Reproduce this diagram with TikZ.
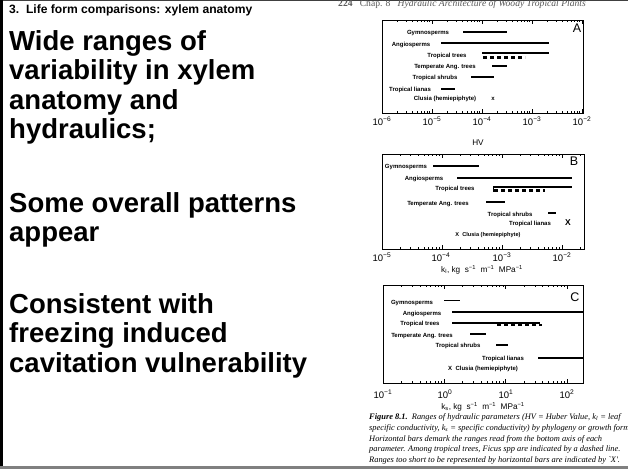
\documentclass[tikz,border=0pt]{standalone}
\usepackage{fontspec}
\setmainfont{Liberation Sans}
\newfontfamily\serifcap{Liberation Serif}
\usetikzlibrary{calc}
\newcommand{\panelticks}[5]{%
  \foreach \d in {0,...,4}{%
    \foreach \m in {1,...,9}{%
      \pgfmathsetmacro{\tx}{#1+#2*(\d+log10(\m))}%
      \pgfmathparse{\tx<=(#3-0.6) ? 1 : 0}%
      \ifnum\pgfmathresult=1
        \ifnum\m=1 \def\tl{4}\else\def\tl{2.3}\fi
        \draw[tickmark] (\tx,#4) -- ++(0,\tl) (\tx,#5) -- ++(0,-\tl);
      \fi
    }%
  }%
}
\begin{document}
\begin{tikzpicture}[x=1pt,y=-1pt,
  bigtxt/.style={anchor=base west,inner sep=0,font=\fontsize{27.5}{30}\selectfont\bfseries},
  lbl/.style={inner sep=0,font=\fontsize{6}{7}\selectfont\bfseries},
  tklbl/.style={inner sep=0,font=\fontsize{9.5}{10}\selectfont},
  axlbl/.style={inner sep=0,font=\fontsize{8.2}{10}\selectfont},
  plet/.style={inner sep=0,font=\fontsize{12.5}{13}\selectfont},
  capline/.style={anchor=base west,inner sep=0,font=\fontsize{8.4}{10}\selectfont\serifcap\itshape},
  panelbox/.style={draw=black,line width=0.9pt},
  tickmark/.style={draw=black,line width=0.6pt},
  rangebar/.style={draw=black,line width=1.7pt},
  ficusbar/.style={draw=black,line width=2.8pt,dash pattern=on 4pt off 3pt},
]
\useasboundingbox (0,0) rectangle (628,469);
\clip (0,0) rectangle (628,469);
\fill[white] (0,0) rectangle (628,469);

% slide frame
\draw[line width=1.2pt,black!75] (0,0.6) -- (628,0.6);
\draw[line width=2.8pt,black] (1.4,0) -- (1.4,469);
\draw[line width=2.8pt,black!50] (0,467.6) -- (628,467.6);

% left text
\node[anchor=base west,inner sep=0,font=\fontsize{12.1}{14}\selectfont\bfseries] (title) at (9,13) {3.\ \ Life form comparisons: xylem anatomy};
\node[bigtxt] (l1) at (9,50) {Wide ranges of};
\node[bigtxt] (l2) at (9,79.5) {variability in xylem};
\node[bigtxt] (l3) at (9,109) {anatomy and};
\node[bigtxt] (l4) at (9,138.5) {hydraulics;};
\node[bigtxt] (l5) at (9,212) {Some overall patterns};
\node[bigtxt] (l6) at (9,241.5) {appear};
\node[bigtxt] (l7) at (9,313) {Consistent with};
\node[bigtxt] (l8) at (9,342.5) {freezing induced};
\node[bigtxt] (l9) at (9,372) {cavitation vulnerability};

% scanned page header
\node[anchor=base west,inner sep=0,text=black!65,font=\fontsize{9.6}{10}\selectfont\serifcap\itshape] (hdr) at (338,6.5) {\textbf{\upshape 224}\ \ \ {\upshape Chap. 8}\ \ \ Hydraulic Architecture of Woody Tropical Plants};

% ================= Panel A =================
\draw[panelbox] (382,20) rectangle (583,113);
\panelticks{382}{50}{583}{20}{113}
\node[plet] (pA) at (577,28.5) {A};
\node[lbl] (aG) at (428,33) {Gymnosperms};
\draw[rangebar] (463,32) -- (507,32);
\node[lbl] (aA) at (411,44.5) {Angiosperms};
\draw[rangebar] (441,43) -- (549,43);
\node[lbl] (aT) at (447,55.5) {Tropical trees};
\draw[rangebar] (482,53) -- (549,53);
\draw[ficusbar] (483,57.5) -- (525,57.5);
\node[lbl] (aTe) at (445,67) {Temperate Ang. trees};
\draw[rangebar] (492,65.7) -- (507,65.7);
\node[lbl] (aS) at (435,78) {Tropical shrubs};
\draw[rangebar] (471,76.7) -- (494,76.7);
\node[lbl] (aL) at (410,90.3) {Tropical lianas};
\draw[rangebar] (441,89.3) -- (455,89.3);
\node[lbl] (aC) at (445,99.3) {Clusia (hemiepiphyte)};
\node[lbl] (aX) at (493,99) {x};
\node[tklbl] (a1) at (382,121.5) {10\textsuperscript{−6}};
\node[tklbl] (a2) at (432,121.5) {10\textsuperscript{−5}};
\node[tklbl] (a3) at (482,121.5) {10\textsuperscript{−4}};
\node[tklbl] (a4) at (532,121.5) {10\textsuperscript{−3}};
\node[tklbl] (a5) at (582,121.5) {10\textsuperscript{−2}};
\node[axlbl] (aHV) at (478,142.7) {HV};

% ================= Panel B =================
\draw[panelbox] (382,154) rectangle (584,249);
\panelticks{382}{60}{584}{154}{249}
\node[plet] (pB) at (574,161.5) {B};
\node[lbl] (bG) at (406,167.3) {Gymnosperms};
\draw[rangebar] (433,165.7) -- (479,165.7);
\node[lbl] (bA) at (424,179.3) {Angiosperms};
\draw[rangebar] (457,178.3) -- (572,178.3);
\node[lbl] (bT) at (455,189.3) {Tropical trees};
\draw[rangebar] (493,186.7) -- (572,186.7);
\draw[ficusbar] (494,190.5) -- (545,190.5);
\draw[rangebar,line width=1pt] (493.5,186.7) -- (493.5,191.5);
\node[lbl] (bTe) at (438,204) {Temperate Ang. trees};
\draw[rangebar] (486,202.3) -- (505,202.3);
\node[lbl] (bS) at (510,215) {Tropical shrubs};
\draw[rangebar] (548,212.7) -- (556,212.7);
\node[lbl] (bL) at (530,224) {Tropical lianas};
\node[inner sep=0,font=\fontsize{8.5}{9}\selectfont\bfseries] (bX) at (568,222.7) {X};
\node[lbl,font=\fontsize{5.6}{6}\selectfont\bfseries] (bC) at (488,235) {X\ \ Clusia (hemiepiphyte)};
\node[tklbl] (b1) at (382,257) {10\textsuperscript{−5}};
\node[tklbl] (b2) at (441,257) {10\textsuperscript{−4}};
\node[tklbl] (b3) at (502,257) {10\textsuperscript{−3}};
\node[tklbl] (b4) at (562,257) {10\textsuperscript{−2}};
\node[axlbl] (bK) at (482,269.5) {k\textsubscript{l},\ kg\ \ s\textsuperscript{−1}\ \ m\textsuperscript{−1}\ \ MPa\textsuperscript{−1}};

% ================= Panel C =================
\draw[panelbox] (383,285) rectangle (583,383);
\panelticks{383}{61.3}{583}{285}{383}
\node[plet] (pC) at (575,297.5) {C};
\node[lbl] (cG) at (412,302.7) {Gymnosperms};
\draw[rangebar] (444,300.5) -- (460,300.5);
\node[lbl] (cA) at (422,314) {Angiosperms};
\draw[rangebar] (452,312.3) -- (583,312.3);
\node[lbl] (cT) at (420,324.3) {Tropical trees};
\draw[rangebar] (452,322.7) -- (540,322.7);
\draw[ficusbar] (497,325) -- (542,325);
\node[lbl] (cTe) at (422,336) {Temperate Ang. trees};
\draw[rangebar] (470,334.3) -- (486,334.3);
\node[lbl] (cS) at (458,345.7) {Tropical shrubs};
\draw[rangebar] (496,345) -- (508,345);
\node[lbl] (cL) at (503,359.3) {Tropical lianas};
\draw[rangebar] (538,358.3) -- (583,358.3);
\node[lbl] (cC) at (483,369.3) {X\ \ Clusia (hemiepiphyte)};
\node[tklbl] (c1) at (383,394) {10\textsuperscript{−1}};
\node[tklbl] (c2) at (445,394) {10\textsuperscript{0}};
\node[tklbl] (c3) at (506,394) {10\textsuperscript{1}};
\node[tklbl] (c4) at (567,394) {10\textsuperscript{2}};
\node[axlbl] (cK) at (483,407) {k\textsubscript{s},\ kg\ \ s\textsuperscript{−1}\ \ m\textsuperscript{−1}\ \ MPa\textsuperscript{−1}};

% caption
\node[capline] (cap1) at (369,419) {\textbf{Figure 8.1.}\ \ Ranges of hydraulic parameters (HV = Huber Value, k\textsubscript{l} = leaf};
\node[capline] (cap2) at (369,430) {specific conductivity, k\textsubscript{s} = specific conductivity) by phylogeny or growth form};
\node[capline] (cap3) at (369,441) {Horizontal bars demark the ranges read from the bottom axis of each};
\node[capline] (cap4) at (369,451.5) {parameter. Among tropical trees, Ficus spp are indicated by a dashed line.};
\node[capline] (cap5) at (369,462) {Ranges too short to be represented by horizontal bars are indicated by `X'.};
\end{tikzpicture}
\end{document}
